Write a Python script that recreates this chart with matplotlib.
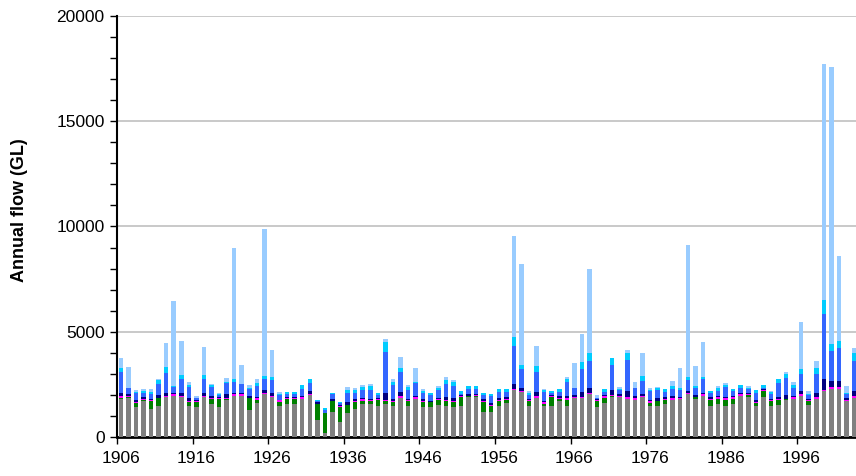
import matplotlib
matplotlib.use("Agg")
import matplotlib.pyplot as plt
import numpy as np
from matplotlib.ticker import FixedLocator, MultipleLocator, NullFormatter

plt.rcParams['font.family'] = ['Liberation Sans', 'DejaVu Sans']

years = list(range(1906, 2004))

grey = [1800, 1830, 1420, 1700, 1340, 1490, 1910, 1960, 1900, 1490,
        1440, 1910, 1570, 1420, 1780, 1960, 1960, 1280, 1600, 2030,
        1910, 1490, 1550, 1550, 1820, 1980, 810, 170, 1210, 730,
        1130, 1310, 1570, 1570, 1450, 1560, 1490, 1850, 1490, 1820,
        1430, 1440, 1530, 1490, 1420, 1490, 1900, 1880, 1210, 1170,
        1490, 1620, 2210, 2130, 1460, 1860, 1490, 1490, 1700, 1490,
        1830, 1860, 2020, 1420, 1620, 1900, 1900, 1820, 1780, 1900,
        1490, 1490, 1570, 1780, 1810, 2020, 1820, 1970, 1460, 1570,
        1460, 1570, 1930, 1890, 1490, 1900, 1490, 1540, 1760, 1820,
        1970, 1540, 1820, 2170, 2300, 2300, 1700, 1860]
green = [30, 60, 190, 70, 350, 340, 0, 0, 0, 190,
         220, 0, 230, 380, 30, 0, 0, 560, 180, 0,
         0, 190, 240, 240, 0, 0, 760, 950, 500, 680,
         390, 360, 160, 130, 300, 130, 190, 0, 210, 0,
         250, 200, 230, 240, 230, 410, 30, 60, 460, 320,
         210, 130, 0, 0, 240, 0, 100, 410, 110, 290,
         30, 0, 0, 300, 240, 60, 20, 0, 0, 0,
         130, 210, 210, 0, 0, 0, 70, 0, 320, 240,
         290, 240, 20, 90, 120, 270, 210, 200, 30, 0,
         0, 160, 0, 0, 0, 0, 0, 0]
magenta = [100, 80, 70, 40, 90, 20, 60, 80, 60, 10,
           60, 60, 40, 70, 40, 60, 70, 10, 60, 80,
           60, 70, 50, 40, 80, 60, 10, 10, 10, 80,
           10, 50, 60, 50, 60, 80, 10, 80, 50, 80,
           40, 40, 40, 50, 50, 60, 40, 50, 20, 50,
           70, 60, 50, 50, 70, 80, 60, 60, 50, 80,
           60, 60, 80, 50, 80, 20, 40, 80, 80, 60,
           80, 30, 30, 80, 50, 80, 20, 50, 30, 90,
           100, 90, 80, 60, 70, 70, 80, 60, 20, 80,
           80, 40, 80, 80, 80, 80, 80, 80]
navy = [180, 50, 90, 70, 30, 150, 130, 70, 140, 150,
        40, 130, 90, 20, 180, 60, 50, 100, 40, 120,
        110, 30, 60, 60, 70, 130, 60, 20, 70, 20,
        140, 70, 60, 70, 20, 320, 120, 190, 70, 70,
        70, 50, 70, 120, 150, 30, 80, 30, 110, 80,
        70, 90, 240, 130, 40, 190, 50, 20, 80, 80,
        80, 210, 210, 20, 40, 250, 80, 270, 80, 80,
        40, 110, 70, 70, 60, 80, 70, 80, 80, 30,
        40, 30, 80, 60, 80, 20, 30, 100, 190, 40,
        130, 80, 190, 510, 270, 270, 80, 240]
blue = [960, 290, 320, 230, 240, 540, 930, 250, 650, 550,
        80, 670, 460, 100, 520, 550, 420, 350, 550, 510,
        630, 200, 150, 160, 290, 400, 90, 130, 230, 90,
        430, 320, 400, 420, 150, 1960, 650, 960, 420, 600,
        290, 250, 350, 620, 570, 70, 250, 280, 200, 350,
        320, 230, 1810, 910, 180, 960, 450, 120, 190, 670,
        320, 1120, 1310, 80, 160, 1170, 180, 1490, 370, 610,
        430, 370, 270, 350, 330, 530, 330, 640, 210, 270,
        500, 270, 210, 170, 320, 60, 240, 670, 800, 400,
        800, 160, 880, 3090, 1440, 1570, 190, 1440]
cyan = [190, 30, 60, 60, 100, 180, 280, 60, 190, 100,
        0, 160, 90, 60, 60, 140, 30, 20, 150, 160,
        160, 80, 110, 110, 190, 190, 50, 90, 90, 80,
        130, 120, 130, 160, 110, 450, 160, 200, 150, 40,
        120, 120, 110, 200, 190, 130, 140, 140, 100, 80,
        130, 130, 460, 190, 110, 260, 60, 80, 130, 160,
        30, 320, 350, 0, 130, 330, 80, 350, 40, 240,
        80, 110, 130, 130, 60, 160, 110, 130, 80, 130,
        80, 100, 130, 80, 150, 130, 80, 200, 200, 110,
        240, 80, 290, 650, 320, 350, 20, 350]
light = [480, 1000, 80, 110, 110, 40, 1150, 4060, 1630, 100,
         110, 1330, 60, 60, 200, 6200, 900, 130, 170, 6980,
         1260, 90, 0, 0, 0, 0, 0, 0, 0, 0,
         130, 90, 110, 110, 0, 140, 140, 520, 100, 650,
         80, 0, 100, 130, 110, 0, 0, 0, 0, 0,
         0, 0, 4780, 4790, 80, 950, 90, 0, 0, 100,
         1180, 1340, 4010, 110, 0, 0, 80, 130, 240, 1110,
         60, 70, 0, 240, 960, 6250, 960, 1630, 0, 70,
         110, 0, 0, 60, 0, 0, 50, 0, 110, 170,
         2230, 120, 330, 11200, 13190, 4030, 330, 250]

series = [grey, green, magenta, navy, blue, cyan, light]
colors = ['#808080', '#008000', '#FF00FF', '#000080', '#3366FF', '#00CCFF', '#99CCFF']

W, H = 856, 476
fig = plt.figure(figsize=(W / 100, H / 100), dpi=100)
ax = fig.add_axes([117 / W, (H - 437) / H, (W - 117) / W, (437 - 16) / H])

x = np.arange(len(years))
bottom = np.zeros(len(years))
for vals, c in zip(series, colors):
    v = np.array(vals, dtype=float)
    ax.bar(x, v, bottom=bottom, width=0.6, color=c, linewidth=0, zorder=3)
    bottom += v

ax.set_xlim(-0.5, 97.25)
ax.set_ylim(0, 20000)

# y axis
ax.yaxis.set_major_locator(MultipleLocator(5000))
ax.yaxis.set_minor_locator(MultipleLocator(1000))
ax.yaxis.grid(True, which='major', color='#C0C0C0', linewidth=1.2, zorder=0)
ax.set_axisbelow(True)
ax.tick_params(axis='y', which='both', direction='out', length=5, width=1, colors='black',
               labelsize=12.5, pad=4)
fig.text(20 / W, 1 - 210 / H, 'Annual flow (GL)', rotation=90, ha='center', va='center',
         fontsize=13, fontweight='bold')

# x axis: ticks between categories, labels at category centres
ax.xaxis.set_major_locator(FixedLocator(np.arange(-0.5, 97, 10)))
ax.xaxis.set_major_formatter(NullFormatter())
lab_pos = np.arange(0, 98, 10)
ax.xaxis.set_minor_locator(FixedLocator(lab_pos))
ax.set_xticklabels([str(years[i]) for i in lab_pos], minor=True)
ax.tick_params(axis='x', which='major', direction='out', length=5, width=1)
ax.tick_params(axis='x', which='minor', length=0, labelsize=12.5, pad=10)

for s in ['top', 'right']:
    ax.spines[s].set_visible(False)
ax.spines['left'].set_linewidth(1.5)
ax.spines['bottom'].set_linewidth(2)

fig.savefig('out.png', dpi=100)
